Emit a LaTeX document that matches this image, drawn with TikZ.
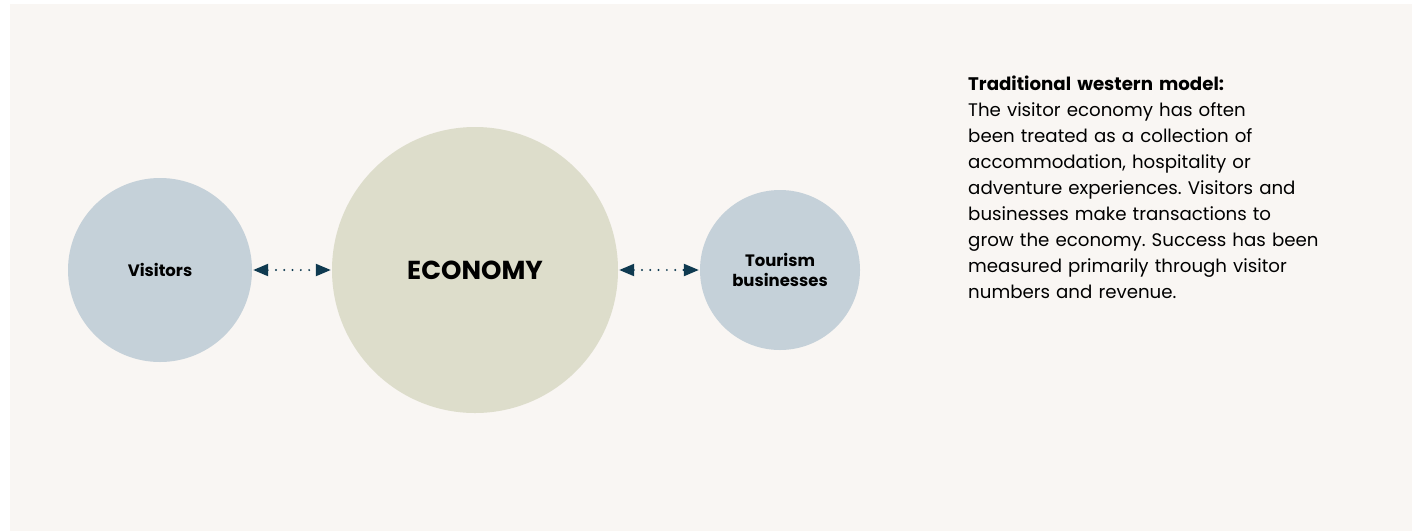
\documentclass[tikz,border=0pt]{standalone}
\usepackage{fontspec}
\setmainfont{Poppins}
\usetikzlibrary{arrows.meta}
\definecolor{paper}{HTML}{F9F6F3}
\definecolor{bluegrey}{HTML}{C5D1D9}
\definecolor{sage}{HTML}{DDDDCB}
\definecolor{navy}{HTML}{0F3A50}
\tikzset{
	ball/.style={circle,inner sep=0pt,align=center,font=\bfseries\fontsize{16.5}{20}\selectfont},
	link/.style={navy,line width=2.2pt,line cap=round,dash pattern=on 0pt off 8.3pt,
		{Triangle[length=15pt,width=12pt]}-{Triangle[length=15pt,width=12pt]}}
}
\frenchspacing
\begin{document}
\begin{tikzpicture}[x=1pt,y=-1pt]
	\useasboundingbox (0,0) rectangle (1412,531);
	\fill[paper] (10,4) rectangle (1412,531);
	% circles
	\node[ball,fill=bluegrey,minimum size=184pt] (visitors) at (160,270) {Visitors};
	\node[ball,fill=sage,minimum size=286pt,font=\bfseries\fontsize{26}{30}\selectfont] (economy) at (475,270) {ECONOMY};
	\node[ball,fill=bluegrey,minimum size=160pt] (business) at (780,270) {Tourism\\businesses};
	% links
	\draw[link] ([xshift=1pt]visitors.east) -- ([xshift=-1pt]economy.west);
	\draw[link] ([xshift=1pt]economy.east) -- ([xshift=-1pt]business.west);
	% description
	\node[anchor=north west,inner sep=0pt,align=left,text width=400pt,
		font=\fontsize{18.2}{26}\selectfont] (note) at (968,76)
		{\textbf{Traditional western model:}\\
		The visitor economy has often\\
		been treated as a collection of\\
		accommodation, hospitality or\\
		adventure experiences. Visitors and\\
		businesses make transactions to\\
		grow the economy. Success has been\\
		measured primarily through visitor\\
		numbers and revenue.};
\end{tikzpicture}
\end{document}
